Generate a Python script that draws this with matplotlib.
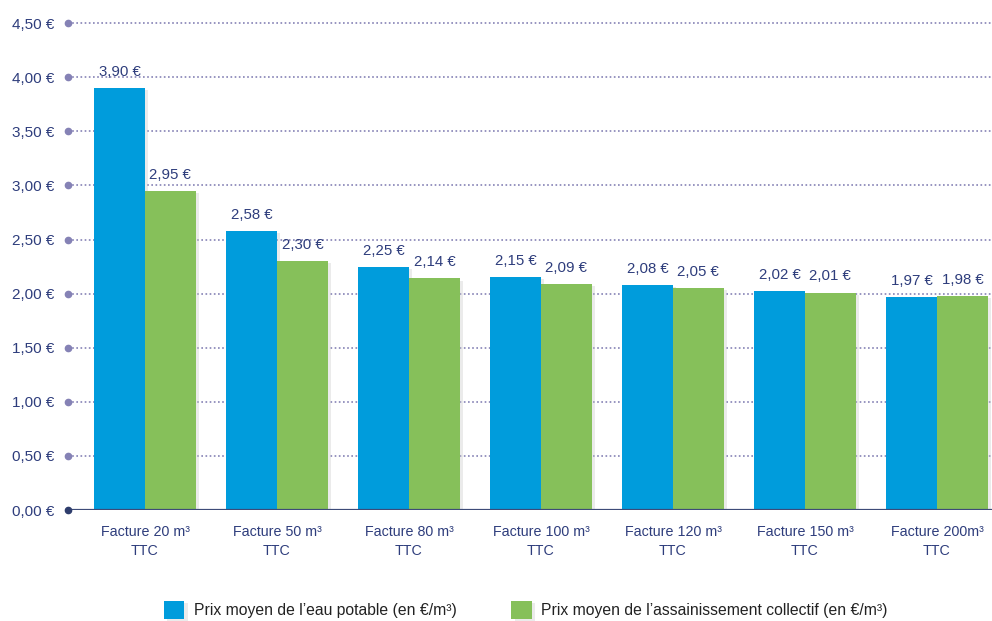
import matplotlib.pyplot as plt
import matplotlib.patheffects as pe
import numpy as np

plt.rcParams['font.family'] = ['Liberation Sans', 'DejaVu Sans']

categories = ['Facture 20 m³\nTTC', 'Facture 50 m³\nTTC', 'Facture 80 m³\nTTC',
              'Facture 100 m³\nTTC', 'Facture 120 m³\nTTC', 'Facture 150 m³\nTTC',
              'Facture 200m³\nTTC']
eau_potable = [3.90, 2.58, 2.25, 2.15, 2.08, 2.02, 1.97]
assainissement = [2.95, 2.30, 2.14, 2.09, 2.05, 2.01, 1.98]
yticks = [0, 0.5, 1.0, 1.5, 2.0, 2.5, 3.0, 3.5, 4.0, 4.5]

blue = '#009cdc'
green = '#86c05a'
txt = '#2e3d7c'
dotc = '#8582b5'

def euro(v):
    return ('%.2f €' % v).replace('.', ',')

fig = plt.figure(figsize=(9.92, 6.21), dpi=100)
ax = fig.add_axes([68 / 992, 1 - 510 / 621, 1 - 68 / 992, (510 - 12.3) / 621])

x = np.arange(len(categories))
w = 0.386
shadow = [pe.SimplePatchShadow(offset=(2.5, -1.5), shadow_rgbFace='#c8c8c8', alpha=0.35), pe.Normal()]
b1 = ax.bar(x - w / 2, eau_potable, w, color=blue, label='Prix moyen de l\u2019eau potable (en €/m³)',
            zorder=3, path_effects=shadow)
b2 = ax.bar(x + w / 2, assainissement, w, color=green,
            label='Prix moyen de l\u2019assainissement collectif (en €/m³)', zorder=3, path_effects=shadow)

for xs, vals in [(x - w / 2, eau_potable), (x + w / 2, assainissement)]:
    for xi, v in zip(xs, vals):
        ax.annotate(euro(v), (xi, v), xytext=(0, 6.5), textcoords='offset points',
                    ha='center', va='bottom', fontsize=10.8, color=txt)

ax.set_xlim(-0.583, 6.417)
ax.set_ylim(0, 4.6)
ax.set_yticks(yticks)
ax.set_yticklabels([euro(v) for v in yticks], fontsize=11, color=txt)
ax.set_xticks(x)
ax.set_xticklabels(categories, fontsize=10.3, color=txt, linespacing=1.45)
ax.tick_params(axis='y', length=0, pad=10)
ax.tick_params(axis='x', length=0, pad=11)

for v in yticks[1:]:
    ax.axhline(v, color=dotc, lw=1.2, ls=(0, (1, 1.5)), zorder=1)
ax.plot([-0.583] * len(yticks[1:]), yticks[1:], 'o', color=dotc, ms=4.5, clip_on=False, zorder=4)
ax.axhline(0, color='#3d4b78', lw=1.6, zorder=4)
ax.plot([-0.583], [0], 'o', color='#2e3d6c', ms=4.5, clip_on=False, zorder=5)

for s in ax.spines.values():
    s.set_visible(False)

fig.legend(handles=[b1, b2], loc='lower center', bbox_to_anchor=(0.53, -0.02), ncol=2,
           frameon=False, fontsize=11.3, handlelength=1.3, handleheight=1.4, handletextpad=0.6,
           columnspacing=3.5, labelcolor='#222222')

fig.savefig('out.png', dpi=100)
